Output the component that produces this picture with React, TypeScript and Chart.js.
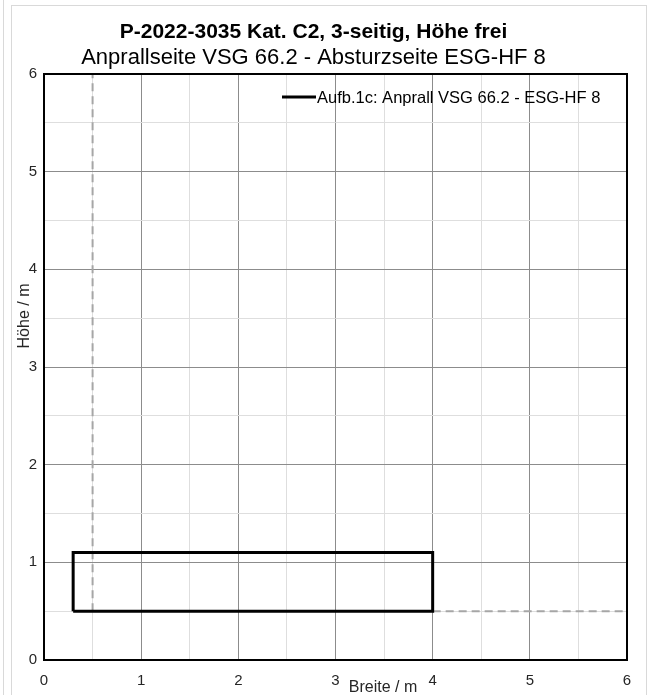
import React, { useEffect, useRef } from "react";
import { Chart, registerables } from "chart.js";
Chart.register(...registerables);

const TITLE = "P-2022-3035 Kat. C2, 3-seitig, Höhe frei";
const SUBTITLE = "Anprallseite VSG 66.2 - Absturzseite ESG-HF 8";
const X_TITLE = "Breite / m";
const Y_TITLE = "Höhe / m";
const LEGEND_LABEL = "Aufb.1c: Anprall VSG 66.2 - ESG-HF 8";

// Rectangle outline (Aufb.1c)
const rectX = [0.3, 0.3, 4, 4, 0.3];
const rectY = [0.5, 1.1, 1.1, 0.5, 0.5];
// Dashed limit lines
const vLineX = [0.5, 0.5];
const vLineY = [0.5, 6];
const hLineX = [4, 6];
const hLineY = [0.5, 0.5];

const X_MIN = 0;
const X_MAX = 6;
const Y_MIN = 0;
const Y_MAX = 6;
const GRID_STEP = 0.5;

const FONT = "'Liberation Sans', Arial, sans-serif";

const toPts = (xs: number[], ys: number[]) => xs.map((x, i) => ({ x, y: ys[i] }));

const overlayPlugin = {
  id: "overlay",
  afterDatasetsDraw(chart: any) {
    const { ctx, chartArea } = chart;
    ctx.save();
    ctx.strokeStyle = "#000";
    ctx.lineWidth = 2;
    ctx.strokeRect(chartArea.left, chartArea.top, chartArea.right - chartArea.left, chartArea.bottom - chartArea.top);
    ctx.restore();
  },
  afterDraw(chart: any) {
    const { ctx } = chart;
    ctx.save();
    // axis titles
    ctx.fillStyle = "#262626";
    ctx.font = `16px ${FONT}`;
    ctx.textAlign = "center";
    ctx.textBaseline = "middle";
    ctx.fillText(X_TITLE, 383, 688);
    ctx.save();
    ctx.translate(25, 316);
    ctx.rotate(-Math.PI / 2);
    ctx.fillText(Y_TITLE, 0, 0);
    ctx.restore();
    // legend (top right inside plot)
    const ds = chart.data.datasets[0];
    ctx.strokeStyle = ds.borderColor;
    ctx.lineWidth = 3;
    ctx.beginPath();
    ctx.moveTo(282, 97);
    ctx.lineTo(316, 97);
    ctx.stroke();
    ctx.fillStyle = "#000";
    ctx.textAlign = "left";
    ctx.font = `16.5px ${FONT}`;
    ctx.fillText(ds.label, 317, 98);
    ctx.restore();
  },
};

export default function App() {
  const ref = useRef<HTMLCanvasElement>(null);
  useEffect(() => {
    if (!ref.current) return;
    const gridColor = (c: any) => {
      const v = c.tick ? c.tick.value : 0;
      return Math.abs(v - Math.round(v)) < 1e-6 ? "#8c8c8c" : "#dedede";
    };
    const tickCb = (v: any) => (Math.abs(Number(v) - Math.round(Number(v))) < 1e-6 ? String(Math.round(Number(v))) : "");
    const chart = new Chart(ref.current, {
      type: "scatter",
      data: {
        datasets: [
          {
            label: LEGEND_LABEL,
            data: toPts(rectX, rectY),
            showLine: true,
            borderColor: "#000",
            backgroundColor: "#000",
            borderWidth: 3,
            pointRadius: 0,
            order: 0,
          },
          {
            label: "v",
            data: toPts(vLineX, vLineY),
            showLine: true,
            borderColor: "#a6a6a6",
            borderWidth: 2,
            borderDash: [8, 5],
            pointRadius: 0,
            order: 1,
          },
          {
            label: "h",
            data: toPts(hLineX, hLineY),
            showLine: true,
            borderColor: "#a6a6a6",
            borderWidth: 2,
            borderDash: [8, 5],
            pointRadius: 0,
            order: 1,
          },
        ],
      },
      options: {
        responsive: false,
        animation: false,
        layout: { padding: { left: 0, right: 25, top: 0, bottom: 0 } },
        plugins: {
          legend: { display: false },
          tooltip: { enabled: false },
          title: {
            display: true,
            text: TITLE,
            color: "#000",
            font: { family: FONT, size: 21, weight: "bold", lineHeight: 1 },
            padding: { top: 22, bottom: 2 },
          },
          subtitle: {
            display: true,
            text: SUBTITLE,
            color: "#000",
            font: { family: FONT, size: 22, weight: "normal", lineHeight: 1 },
            padding: { top: 2, bottom: 5 },
          },
        },
        scales: {
          x: {
            type: "linear",
            min: X_MIN,
            max: X_MAX,
            border: { display: false },
            grid: { color: gridColor, lineWidth: 1, drawTicks: false },
            ticks: {
              stepSize: GRID_STEP,
              autoSkip: false,
              maxRotation: 0,
              padding: 12,
              color: "#262626",
              font: { family: FONT, size: 15 },
              callback: tickCb,
            },
            afterFit: (s: any) => {
              s.height = 35;
            },
          },
          y: {
            type: "linear",
            min: Y_MIN,
            max: Y_MAX,
            border: { display: false },
            grid: { color: gridColor, lineWidth: 1, drawTicks: false },
            ticks: {
              stepSize: GRID_STEP,
              autoSkip: false,
              padding: 7,
              color: "#262626",
              font: { family: FONT, size: 15 },
              callback: tickCb,
            },
            afterFit: (s: any) => {
              s.width = 44;
            },
          },
        },
      },
      plugins: [overlayPlugin],
    });
    return () => chart.destroy();
  }, []);

  return (
    <div style={{ position: "fixed", left: 0, top: 0, width: 652, height: 695, background: "#fff", overflow: "hidden" }}>
      <div style={{ position: "absolute", left: 3, top: 0, width: 0, height: 695, borderLeft: "1px solid #d9d9d9" }} />
      <div
        style={{
          position: "absolute",
          left: 11,
          top: 5,
          width: 636,
          height: 700,
          border: "1px solid #d9d9d9",
          boxSizing: "border-box",
        }}
      />
      <canvas ref={ref} width={652} height={695} style={{ position: "absolute", left: 0, top: 0, width: 652, height: 695 }} />
    </div>
  );
}
